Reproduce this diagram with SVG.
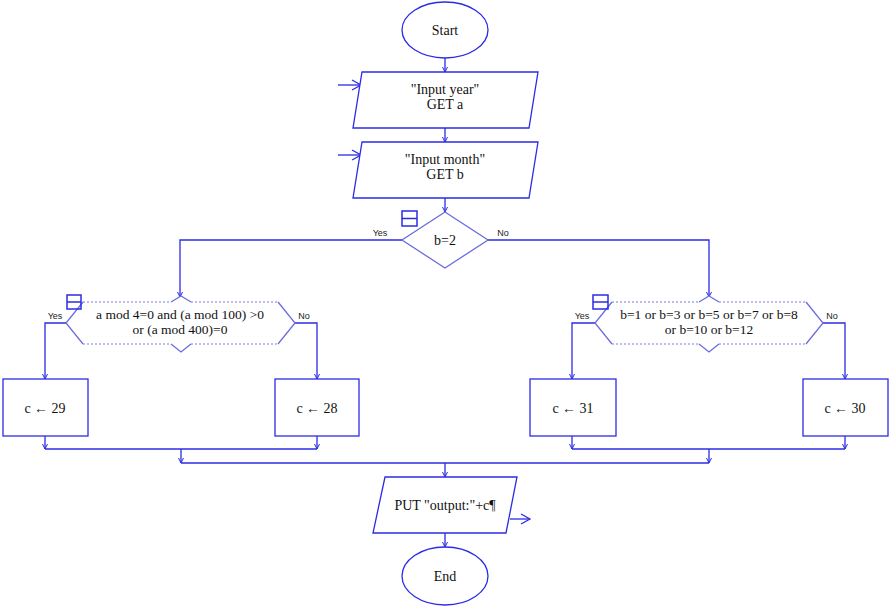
<svg xmlns="http://www.w3.org/2000/svg" width="890" height="609" viewBox="0 0 890 609">
<style>
.s{fill:#fff;stroke:#2b2be6;stroke-width:1.3}
.d{fill:#fff;stroke:#6c6ce0;stroke-width:1.3}
.dot{fill:none;stroke:#7a7ae6;stroke-width:1;stroke-dasharray:2 2}
.c{fill:none;stroke:#2b2be6;stroke-width:1.3}
.t{font-family:"Liberation Serif",serif;font-size:14px;fill:#111;text-anchor:middle}
.h{font-family:"Liberation Serif",serif;font-size:13.5px;fill:#111;text-anchor:middle}
.l{font-family:"Liberation Sans",sans-serif;font-size:9px;fill:#222;text-anchor:middle}
.ic{fill:none;stroke:#2b2be6;stroke-width:1.5}
</style>
<defs>
<marker id="a" markerWidth="6" markerHeight="6" refX="5" refY="3" orient="auto" markerUnits="userSpaceOnUse">
<path d="M0,0.5 L5,3 L0,5.5" fill="none" stroke="#2b2be6" stroke-width="1"/>
</marker>
<marker id="o" markerWidth="12" markerHeight="12" refX="10" refY="6" orient="auto" markerUnits="userSpaceOnUse">
<path d="M1,1 L10,6 L1,11" fill="none" stroke="#2b2be6" stroke-width="1.3"/>
</marker>
</defs>
<g id="connectors">
<path class="c" d="M445,58 V72" marker-end="url(#a)"/>
<path class="c" d="M445,128 V142" marker-end="url(#a)"/>
<path class="c" d="M445,198 V212" marker-end="url(#a)"/>
<path class="c" d="M338,85 H361" marker-end="url(#o)"/>
<path class="c" d="M338,155 H361" marker-end="url(#o)"/>
<path class="c" d="M402,240 H180 V297" marker-end="url(#a)"/>
<path class="c" d="M488,240 H709 V297" marker-end="url(#a)"/>
<path class="c" d="M66,323 H45 V379" marker-end="url(#a)"/>
<path class="c" d="M295,323 H317 V379" marker-end="url(#a)"/>
<path class="c" d="M595,323 H572 V379" marker-end="url(#a)"/>
<path class="c" d="M823,323 H845 V379" marker-end="url(#a)"/>
<path class="c" d="M45,436 V449" marker-end="url(#a)"/>
<path class="c" d="M317,436 V449" marker-end="url(#a)"/>
<path class="c" d="M45,449 H317"/>
<path class="c" d="M572,436 V449" marker-end="url(#a)"/>
<path class="c" d="M845,436 V449" marker-end="url(#a)"/>
<path class="c" d="M572,449 H845"/>
<path class="c" d="M181,449 V463" marker-end="url(#a)"/>
<path class="c" d="M709,449 V463" marker-end="url(#a)"/>
<path class="c" d="M181,463 H709"/>
<path class="c" d="M445,463 V477" marker-end="url(#a)"/>
<path class="c" d="M445,533 V547" marker-end="url(#a)"/>
<path class="c" d="M510,519 H530" marker-end="url(#o)"/>
<text class="l" x="380" y="236">Yes</text>
<text class="l" x="503" y="236">No</text>
<text class="l" x="55" y="319">Yes</text>
<text class="l" x="304" y="319">No</text>
<text class="l" x="582" y="319">Yes</text>
<text class="l" x="832" y="319">No</text>
</g>
<g id="start">
<ellipse class="s" cx="445" cy="30" rx="43" ry="28"/>
<text class="t" x="445" y="35">Start</text>
</g>
<g id="input-year">
<path class="s" d="M362,72 H538 L529,128 H353 Z"/>
<text class="t" x="445" y="94">"Input year"</text>
<text class="t" x="445" y="109">GET a</text>
</g>
<g id="input-month">
<path class="s" d="M362,142 H538 L529,198 H353 Z"/>
<text class="t" x="445" y="164">"Input month"</text>
<text class="t" x="445" y="179">GET b</text>
</g>
<g id="decision-b2">
<path class="d" d="M445,212 L488,240 L445,268 L402,240 Z"/>
<rect class="ic" x="402" y="211" width="15" height="15"/>
<path class="ic" d="M402,218.5 H417"/>
<text class="t" x="445" y="245">b=2</text>
</g>
<g id="decision-leap">
<path class="d" d="M83,302 L66,323 L83,344 M278,302 L295,323 L278,344" fill="none"/>
<path class="dot" d="M83,302 H171 M191,302 H278 M83,344 H171 M191,344 H278"/>
<path class="d" fill="none" d="M171,302 L181,296 L191,302 M171,344 L181,352 L191,344"/>
<rect class="ic" x="67" y="295" width="14" height="14"/>
<path class="ic" d="M67,302 H81"/>
<text class="h" x="180" y="319">a mod 4=0 and (a mod 100) &gt;0</text>
<text class="h" x="180" y="334">or (a mod 400)=0</text>
</g>
<g id="decision-31">
<path class="d" d="M612,302 L595,323 L612,344 M806,302 L823,323 L806,344" fill="none"/>
<path class="dot" d="M612,302 H699 M719,302 H806 M612,344 H699 M719,344 H806"/>
<path class="d" fill="none" d="M699,302 L709,296 L719,302 M699,344 L709,352 L719,344"/>
<rect class="ic" x="593" y="295" width="15" height="14"/>
<path class="ic" d="M593,302 H608"/>
<text class="h" x="709" y="319">b=1 or b=3 or b=5 or b=7 or b=8</text>
<text class="h" x="709" y="334">or b=10  or b=12</text>
</g>
<g id="c29">
<rect class="s" x="3" y="379" width="85" height="57"/>
<text class="t" x="45" y="413">c ← 29</text>
</g>
<g id="c28">
<rect class="s" x="275" y="379" width="84" height="57"/>
<text class="t" x="317" y="413">c ← 28</text>
</g>
<g id="c31">
<rect class="s" x="530" y="379" width="86" height="57"/>
<text class="t" x="573" y="413">c ← 31</text>
</g>
<g id="c30">
<rect class="s" x="803" y="379" width="85" height="57"/>
<text class="t" x="845" y="413">c ← 30</text>
</g>
<g id="output">
<path class="s" d="M385,477 H517 L506,533 H373 Z"/>
<text class="t" x="445" y="510">PUT "output:"+c¶</text>
</g>
<g id="end">
<ellipse class="s" cx="445" cy="576" rx="43" ry="29"/>
<text class="t" x="445" y="581">End</text>
</g>
</svg>
